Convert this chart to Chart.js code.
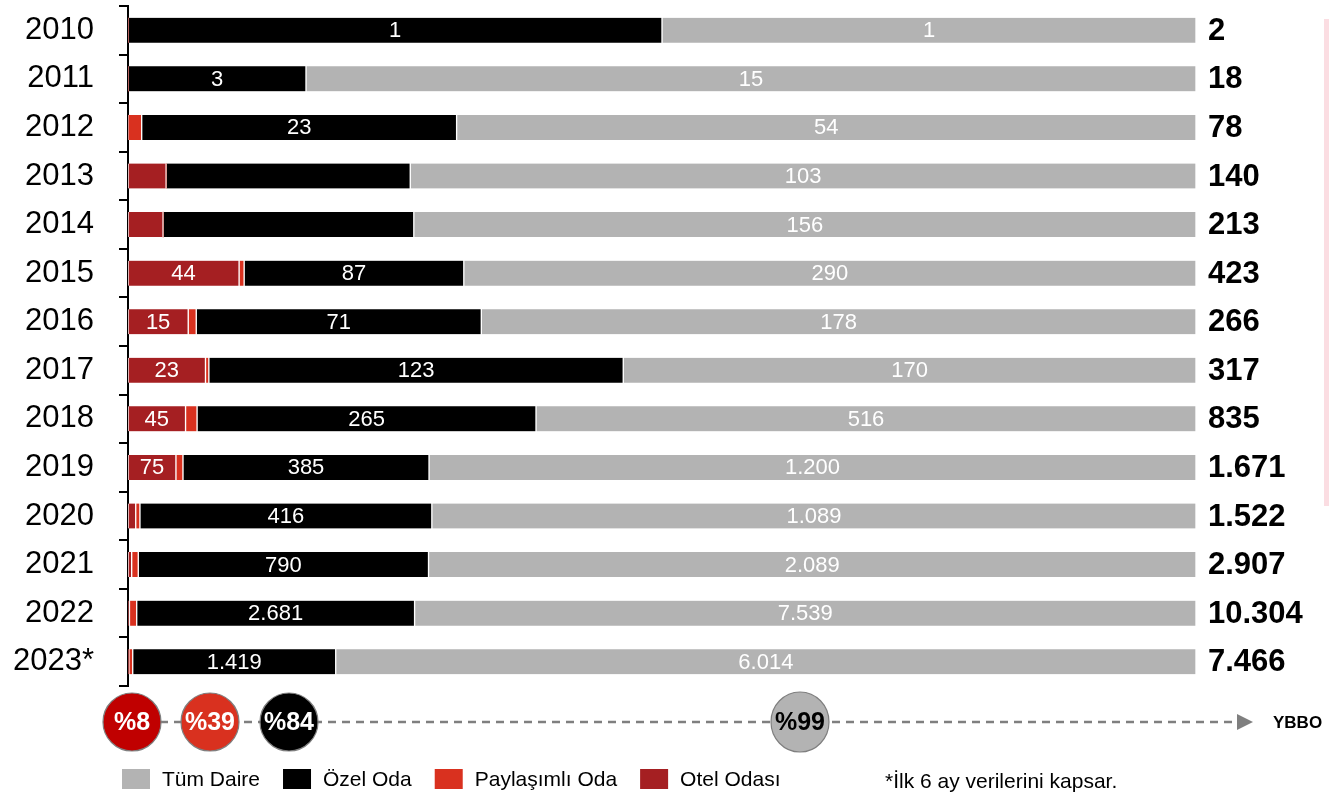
<!DOCTYPE html>
<html>
<head>
<meta charset="utf-8">
<script src="https://cdn.jsdelivr.net/npm/chart.js@4/dist/chart.umd.min.js"></script>
<style>
html, body { margin: 0; padding: 0; background: #fff; }
#wrap { width: 1329px; height: 795px; }
</style>
</head>
<body>
<div id="wrap"><canvas id="chart" width="1329" height="795"></canvas></div>
<script>
// values (counts per year)
var years = ['2010', '2011', '2012', '2013', '2014', '2015', '2016', '2017', '2018', '2019', '2020', '2021', '2022', '2023*'];
var otelOdasi = [0, 0, 0, 5, 7, 44, 15, 23, 45, 75, 11, 10, 14, 6];
var paylasimliOda = [0, 0, 1, 0, 0, 2, 2, 1, 9, 11, 6, 18, 70, 27];
var ozelOda = [1, 3, 23, 32, 50, 87, 71, 123, 265, 385, 416, 790, 2681, 1419];
var tumDaire = [1, 15, 54, 103, 156, 290, 178, 170, 516, 1200, 1089, 2089, 7539, 6014];
var totals = [2, 18, 78, 140, 213, 423, 266, 317, 835, 1671, 1522, 2907, 10304, 7466];

// YBBO circles, in the order Otel, Paylaşımlı, Özel, Tüm Daire
var cagrLabels = ['%8', '%39', '%84', '%99'];
var cagrTitle = 'YBBO';
var footnote = '*İlk 6 ay verilerini kapsar.';

// which segments carry a number in the picture
var otelLabelYears = ['2015', '2016', '2017', '2018', '2019'];
var ozelNoLabelYears = ['2013', '2014'];

var FONT = '"Liberation Sans", Arial, sans-serif';
var colors = {
	otel: '#a51f22',
	paylasimli: '#d9311f',
	ozel: '#000000',
	tum: '#b3b3b3'
};

function fmt(v) {
	return String(v).replace(/\B(?=(\d{3})+(?!\d))/g, '.');
}
function share(arr) {
	return arr.map(function (v, i) { return v / totals[i] * 100; });
}

var rawSeries = [otelOdasi, paylasimliOda, ozelOda, tumDaire];

function labelShown(di, i) {
	if (di === 0) return otelLabelYears.indexOf(years[i]) >= 0;
	if (di === 1) return false;
	if (di === 2) return ozelNoLabelYears.indexOf(years[i]) < 0;
	return true;
}

var segmentLabels = {
	id: 'segmentLabels',
	afterDatasetsDraw: function (chart) {
		var ctx = chart.ctx;
		ctx.save();
		ctx.font = '22px ' + FONT;
		ctx.fillStyle = '#fff';
		ctx.textAlign = 'center';
		ctx.textBaseline = 'middle';
		chart.data.datasets.forEach(function (ds, di) {
			var meta = chart.getDatasetMeta(di);
			meta.data.forEach(function (bar, i) {
				if (!labelShown(di, i)) return;
				var p = bar.getProps(['x', 'y', 'base'], true);
				ctx.fillText(fmt(rawSeries[di][i]), (p.x + p.base) / 2, p.y + 1);
			});
		});

		// totals at the right end of each bar
		ctx.font = 'bold 31px ' + FONT;
		ctx.fillStyle = '#000';
		ctx.textAlign = 'left';
		var last = chart.getDatasetMeta(3);
		last.data.forEach(function (bar, i) {
			ctx.fillText(fmt(totals[i]), chart.chartArea.right + 12, bar.y + 1);
		});
		ctx.restore();
	}
};

var bottomParts = {
	id: 'bottomParts',
	afterDraw: function (chart) {
		var ctx = chart.ctx;
		ctx.save();

		// faint pink rule on the far right
		ctx.fillStyle = '#fbdde2';
		ctx.fillRect(1324, 19, 5, 487);

		// dashed growth line + arrow
		var ly = 722;
		ctx.strokeStyle = '#7f7f7f';
		ctx.lineWidth = 2.5;
		ctx.setLineDash([8, 6]);
		ctx.beginPath();
		ctx.moveTo(132, ly);
		ctx.lineTo(1238, ly);
		ctx.stroke();
		ctx.setLineDash([]);
		ctx.fillStyle = '#7f7f7f';
		ctx.beginPath();
		ctx.moveTo(1237, ly - 8);
		ctx.lineTo(1253, ly);
		ctx.lineTo(1237, ly + 8);
		ctx.closePath();
		ctx.fill();

		ctx.fillStyle = '#000';
		ctx.font = 'bold 17px ' + FONT;
		ctx.textAlign = 'left';
		ctx.textBaseline = 'middle';
		ctx.fillText(cagrTitle, 1273, ly + 1);

		var cx = [132, 210, 289, 800];
		var fills = ['#c00000', colors.paylasimli, colors.ozel, colors.tum];
		var inks = ['#fff', '#fff', '#fff', '#000'];
		cagrLabels.forEach(function (t, k) {
			ctx.beginPath();
			ctx.ellipse(cx[k], ly, 29, k === 3 ? 30 : 29, 0, 0, Math.PI * 2);
			ctx.fillStyle = fills[k];
			ctx.fill();
			ctx.lineWidth = 1.2;
			ctx.strokeStyle = '#7f7f7f';
			ctx.stroke();
			ctx.fillStyle = inks[k];
			ctx.font = 'bold 25px ' + FONT;
			ctx.textAlign = 'center';
			ctx.fillText(t, cx[k], ly + 1);
		});

		// legend, reversed dataset order
		ctx.font = '21px ' + FONT;
		ctx.textAlign = 'left';
		var x = 122, y = 779;
		chart.data.datasets.slice().reverse().forEach(function (ds) {
			ctx.fillStyle = ds.backgroundColor;
			ctx.fillRect(x, y - 10, 28, 20);
			ctx.fillStyle = '#000';
			ctx.fillText(ds.label, x + 40, y + 1);
			x += 40 + ctx.measureText(ds.label).width + 23;
		});

		ctx.fillText(footnote, 885, 782);
		ctx.restore();
	}
};

function dataset(label, arr, color) {
	return {
		label: label,
		data: share(arr),
		backgroundColor: color,
		borderColor: '#ffffff',
		borderWidth: {left: 1, right: 1, top: 0, bottom: 0},
		borderSkipped: false,
		barThickness: 25
	};
}

var chart = new Chart(document.getElementById('chart'), {
	type: 'bar',
	data: {
		labels: years,
		datasets: [
			dataset('Otel Odası', otelOdasi, colors.otel),
			dataset('Paylaşımlı Oda', paylasimliOda, colors.paylasimli),
			dataset('Özel Oda', ozelOda, colors.ozel),
			dataset('Tüm Daire', tumDaire, colors.tum)
		]
	},
	options: {
		indexAxis: 'y',
		responsive: false,
		animation: false,
		layout: {padding: {top: 6, right: 133, bottom: 109, left: 0}},
		plugins: {
			legend: {display: false},
			tooltip: {enabled: false}
		},
		scales: {
			x: {
				stacked: true,
				display: false,
				min: 0,
				max: 100
			},
			y: {
				stacked: true,
				afterFit: function (scale) {
					scale.width = 128;
					scale.paddingTop = 0;
					scale.paddingBottom = 0;
				},
				grid: {
					offset: true,
					drawOnChartArea: false,
					tickLength: 9,
					color: '#000',
					lineWidth: 2
				},
				border: {display: true, color: '#000', width: 2},
				ticks: {
					padding: 25,
					color: '#000',
					font: {family: FONT, size: 31}
				}
			}
		}
	},
	plugins: [segmentLabels, bottomParts]
});
</script>
</body>
</html>
